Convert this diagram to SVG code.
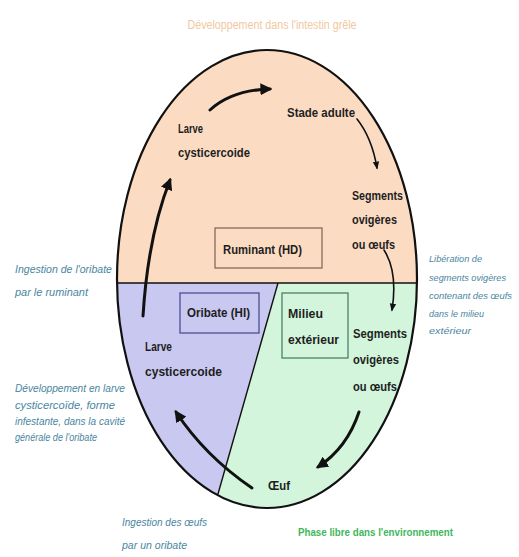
<svg xmlns="http://www.w3.org/2000/svg" width="519" height="557" viewBox="0 0 519 557">
<style>
.node{font-family:"Liberation Sans",Arial,sans-serif;font-weight:bold;font-size:13px;fill:#1e1e1e}
.side{font-family:"Liberation Sans",Arial,sans-serif;font-style:italic;font-size:11.5px;fill:#4a86a0}
.rside{font-size:9.5px}
.title{font-family:"Liberation Sans",Arial,sans-serif;font-size:12px;fill:#f0c8a0}
.phase{font-family:"Liberation Sans",Arial,sans-serif;font-weight:bold;font-size:11px;fill:#3fb75c}
.thick{fill:none;stroke:#111;stroke-width:3;stroke-linecap:round}
.thin{fill:none;stroke:#111;stroke-width:1.6;stroke-linecap:round}
</style>
<defs>
<clipPath id="egg"><ellipse cx="267" cy="279" rx="150" ry="229"/></clipPath>
<marker id="big" viewBox="0 0 10 10" refX="8" refY="5" markerWidth="4" markerHeight="4" orient="auto" markerUnits="strokeWidth"><path d="M0,0 L10,5 L0,10 Z" fill="#111"/></marker>
<marker id="small" viewBox="0 0 10 10" refX="8" refY="5" markerWidth="5" markerHeight="5" orient="auto" markerUnits="strokeWidth"><path d="M0,1 L10,5 L0,9 Z" fill="#111"/></marker>
</defs>
<rect width="519" height="557" fill="#fff"/>
<g id="regions" clip-path="url(#egg)">
<rect x="100" y="40" width="330" height="243" fill="#fbdcc3"/>
<polygon points="100,283 278,283 205,540 100,540" fill="#c9c8f0"/>
<polygon points="278,283 430,283 430,540 205,540" fill="#d2f5dc"/>
<line x1="100" y1="283" x2="430" y2="283" stroke="#111" stroke-width="1.6"/>
<line x1="278" y1="283" x2="212" y2="515" stroke="#111" stroke-width="1.4"/>
</g>
<ellipse cx="267" cy="279" rx="150" ry="229" fill="none" stroke="#111" stroke-width="2.2"/>
<text class="title" x="272" y="29" text-anchor="middle" textLength="169" lengthAdjust="spacingAndGlyphs">Développement dans l'intestin grêle</text>
<g id="connectors">
<path class="thick" d="M210,110 Q232,90 270,89" marker-end="url(#big)"/>
<path class="thin" d="M357,119 Q372,138 377,168" marker-end="url(#small)"/>
<path class="thin" d="M384,250 Q398,272 392,310" marker-end="url(#small)"/>
<path class="thick" d="M359,412 Q347,448 318,467" marker-end="url(#big)"/>
<path class="thick" d="M252,488 Q205,456 176,412" marker-end="url(#big)"/>
<path class="thick" d="M143,316 Q148,236 170,180" marker-end="url(#big)"/>
</g>
<g id="ruminant">
<rect x="215" y="228" width="107" height="40" fill="none" stroke="#8b6a58" stroke-width="1.3"/>
<text class="node" x="223" y="254" textLength="79" lengthAdjust="spacingAndGlyphs">Ruminant (HD)</text>
</g>
<g id="oribate">
<rect x="180" y="293" width="79" height="40" fill="none" stroke="#4e4e92" stroke-width="1.3"/>
<text class="node" x="187" y="317" textLength="63" lengthAdjust="spacingAndGlyphs">Oribate (HI)</text>
</g>
<g id="milieu">
<rect x="282" y="293" width="66" height="65" fill="none" stroke="#4e8060" stroke-width="1.3"/>
<text class="node" x="288" y="318" textLength="35" lengthAdjust="spacingAndGlyphs">Milieu</text>
<text class="node" x="288" y="344" textLength="51" lengthAdjust="spacingAndGlyphs">extérieur</text>
</g>
<g id="larve-haut">
<text class="node" x="178" y="133" textLength="25" lengthAdjust="spacingAndGlyphs">Larve</text>
<text class="node" x="178" y="157" textLength="72" lengthAdjust="spacingAndGlyphs">cysticercoide</text>
</g>
<g id="stade-adulte">
<text class="node" x="287" y="117" textLength="68" lengthAdjust="spacingAndGlyphs">Stade adulte</text>
</g>
<g id="segments-haut">
<text class="node" x="352" y="200" textLength="51" lengthAdjust="spacingAndGlyphs">Segments</text>
<text class="node" x="352" y="224" textLength="45" lengthAdjust="spacingAndGlyphs">ovigères</text>
<text class="node" x="352" y="249" textLength="43" lengthAdjust="spacingAndGlyphs">ou œufs</text>
</g>
<g id="segments-bas">
<text class="node" x="353" y="338" textLength="54" lengthAdjust="spacingAndGlyphs">Segments</text>
<text class="node" x="353" y="364" textLength="46" lengthAdjust="spacingAndGlyphs">ovigères</text>
<text class="node" x="353" y="391" textLength="44" lengthAdjust="spacingAndGlyphs">ou œufs</text>
</g>
<g id="larve-bas">
<text class="node" x="145" y="351" textLength="27" lengthAdjust="spacingAndGlyphs">Larve</text>
<text class="node" x="145" y="376" textLength="77" lengthAdjust="spacingAndGlyphs">cysticercoide</text>
</g>
<g id="oeuf">
<text class="node" x="268" y="490" textLength="22" lengthAdjust="spacingAndGlyphs">Œuf</text>
</g>
<g id="labels">
<text class="side" x="15" y="273" textLength="97" lengthAdjust="spacingAndGlyphs">Ingestion de l'oribate</text>
<text class="side" x="15" y="296" textLength="73" lengthAdjust="spacingAndGlyphs">par le ruminant</text>
<text class="side" x="15" y="392" textLength="110" lengthAdjust="spacingAndGlyphs">Développement en larve</text>
<text class="side" x="15" y="409" textLength="100" lengthAdjust="spacingAndGlyphs">cysticercoïde, forme</text>
<text class="side" x="15" y="425" textLength="110" lengthAdjust="spacingAndGlyphs">infestante, dans la cavité</text>
<text class="side" x="15" y="441" textLength="82" lengthAdjust="spacingAndGlyphs">générale de l'oribate</text>
<text class="side rside" x="429" y="262" textLength="53" lengthAdjust="spacingAndGlyphs">Libération de</text>
<text class="side rside" x="429" y="281" textLength="77" lengthAdjust="spacingAndGlyphs">segments ovigères</text>
<text class="side rside" x="429" y="299" textLength="83" lengthAdjust="spacingAndGlyphs">contenant des œufs</text>
<text class="side rside" x="429" y="317" textLength="55" lengthAdjust="spacingAndGlyphs">dans le milieu</text>
<text class="side rside" x="429" y="334" textLength="42" lengthAdjust="spacingAndGlyphs">extérieur</text>
<text class="side" x="122" y="526" textLength="85" lengthAdjust="spacingAndGlyphs">Ingestion des œufs</text>
<text class="side" x="122" y="549" textLength="65" lengthAdjust="spacingAndGlyphs">par un oribate</text>
<text class="phase" x="298" y="536" textLength="155" lengthAdjust="spacingAndGlyphs">Phase libre dans l'environnement</text>
</g>
</svg>
